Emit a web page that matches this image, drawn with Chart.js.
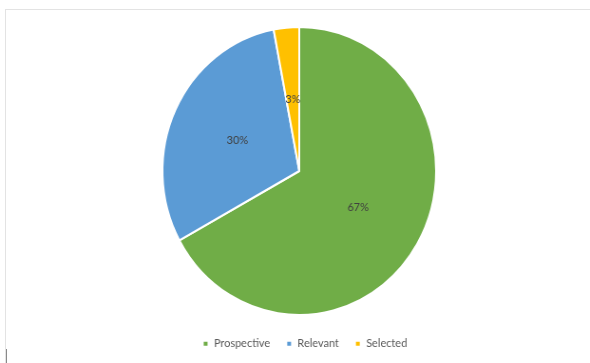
<!DOCTYPE html>
<html>
<head>
<meta charset="utf-8">
<script src="https://cdn.jsdelivr.net/npm/chart.js@4"></script>
<style>
  html, body { margin: 0; padding: 0; background: #fff; }
  #wrap { position: relative; width: 590px; height: 363px; overflow: hidden; }
  #frame { position: absolute; left: 5px; top: 9px; width: 600px; height: 400px; border: 1px solid #e3e3e3; box-sizing: border-box; }
  #tick { position: absolute; left: 6px; top: 349px; width: 1px; height: 14px; background: #8a8a8a; }
  /* the source picture is squeezed a little horizontally */
  #pie { position: absolute; left: 0; top: 0; transform: scaleX(0.95); transform-origin: 0 0; }
</style>
</head>
<body>
<div id="wrap">
  <div id="frame"></div>
  <div id="tick"></div>
  <canvas id="pie" width="621" height="363"></canvas>
</div>
<script>
const categories = ['Prospective', 'Relevant', 'Selected'];
const shares = [67, 30, 3];
const sliceColors = ['#70AD47', '#5B9BD5', '#FFC000'];

// percentage labels at mid radius, like the office chart
const sliceLabels = {
    id: 'sliceLabels',
    afterDatasetsDraw(chart) {
        const ctx = chart.ctx;
        const meta = chart.getDatasetMeta(0);
        ctx.save();
        ctx.font = '11.5px Lato, "Liberation Sans", sans-serif';
        ctx.fillStyle = '#404040';
        ctx.textAlign = 'center';
        ctx.textBaseline = 'middle';
        meta.data.forEach((arc, i) => {
            const p = arc.getCenterPoint();
            ctx.fillText(shares[i] + '%', p.x, p.y);
        });
        ctx.restore();
    }
};

// legend sits a bit right of the pie centre in the original
const legendShift = {
    id: 'legendShift',
    afterLayout(chart) {
        chart.legend.left += 6;
        chart.legend.right += 6;
    }
};

const ctx = document.getElementById('pie').getContext('2d');
new Chart(ctx, {
    type: 'pie',
    data: {
        labels: categories,
        datasets: [{
            data: shares,
            backgroundColor: sliceColors,
            borderColor: '#ffffff',
            borderWidth: 2,
        }],
    },
    options: {
        responsive: false,
        animation: false,
        layout: { padding: { top: 21, bottom: 3.5, left: 170, right: 161 } },
        plugins: {
            legend: {
                position: 'bottom',
                labels: {
                    boxWidth: 6,
                    boxHeight: 6,
                    padding: 17,
                    color: '#595959',
                    font: { family: 'Lato, "Liberation Sans", sans-serif', size: 11.5 },
                },
            },
            tooltip: { enabled: false },
        },
    },
    plugins: [sliceLabels, legendShift],
});
</script>
</body>
</html>
